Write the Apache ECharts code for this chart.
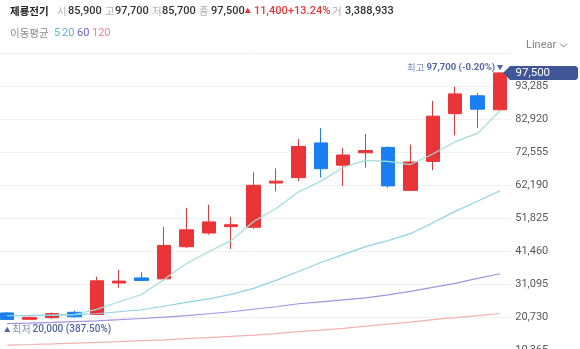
<!DOCTYPE html>
<html><head><meta charset="utf-8">
<script src="https://cdn.jsdelivr.net/npm/echarts@6/dist/echarts.min.js"></script>
<style>html,body{margin:0;padding:0;background:#fff;overflow:hidden}#c{width:580px;height:349px}</style>
</head><body><div id="c"></div>
<script>
const categories = ['1','2','3','4','5','6','7','8','9','10','11','12','13','14','15','16','17','18','19','20','21','22','23'];
const opens  = [22100,20100,20600,22300,21600,31500,33100,32800,42900,47200,49200,49000,62900,64600,75500,68500,72400,74100,60600,69700,84700,90300,85900];
const closes = [20050,20700,21900,20900,32200,32100,32300,43300,48200,50700,49800,62200,63500,74400,67400,71700,73100,62000,69500,83900,90900,86100,97500];
const lows   = [20000,20050,20200,20550,21400,30000,32200,32300,42500,46700,42200,48500,60300,63500,64600,62000,67700,61400,60500,66900,77900,80200,85700];
const highs  = [22400,21000,22200,22850,33500,35600,34900,49100,55100,56100,52200,66300,67500,76700,80200,73900,78300,74400,75000,88700,93200,91100,97700];
const ma5   = [21300,21300,21400,21600,23200,25600,27900,32600,37600,41300,44900,50800,54900,60100,63500,67800,70000,69700,68700,72000,75900,78500,85600];
const ma20  = [21230,21230,21390,21540,21850,22480,23100,24200,25440,26540,27940,29820,32310,35120,37930,40430,42930,44800,46990,50400,54000,57200,60500];
const ma60  = [18730,18890,19110,19360,19610,19980,20360,20760,21230,21850,22480,23260,24040,24980,25600,26230,26850,27790,28880,30130,31380,32940,34400];
const ma120 = [12020,12180,12390,12640,12860,13110,13430,13670,14050,14360,14740,15140,15610,16230,16700,17230,17950,18580,19200,19980,20610,21230,21920];
const yTickInterval = 10365;
const yMin = 10365, yMax = 103650;
const header = {name:'제룡전기', open:'85,900', high:'97,700', low:'85,700', close:'97,500', chg:'11,400', pct:'+13.24%', vol:'3,388,933'};
const maLabels = ['5','20','60','120'];
const hiLabel = '97,700 (-0.20%)';
const loLabel = '20,000 (387.50%)';

const K = "'Noto Sans CJK KR','Noto Sans',sans-serif";
const N = "Roboto,'Noto Sans CJK KR',sans-serif";
const RED = '#ea3538', BLUE = '#1a7ff0';
const chart = echarts.init(document.getElementById('c'));
const candleData = categories.map((c,i)=>[opens[i],closes[i],lows[i],highs[i]]);
const fmt = v => String(v).replace(/\B(?=(\d{3})+(?!\d))/g, ',');

chart.setOption({
  animation:false,
  grid:{left:-4, width:515.2, top:53.3, height:297, outerBoundsMode:'none', containLabel:false},
  xAxis:{type:'category', data:categories, boundaryGap:true, show:false},
  yAxis:{type:'value', position:'right', min:yMin, max:yMax, interval:yTickInterval, scale:true,
    axisLine:{show:false}, axisTick:{show:false},
    splitLine:{lineStyle:{color:'#f1f1f1', width:1}},
    axisLabel:{color:'#585858', fontSize:11, fontFamily:N, margin:4, showMaxLabel:false, formatter:v=>fmt(v)}},
  series:[
    {type:'candlestick', data:candleData, barWidth:14, z:2,
     itemStyle:{color:RED, color0:BLUE, borderColor:RED, borderColor0:BLUE, borderColorDoji:RED, borderWidth:1}},
    {type:'line', data:ma5, symbol:'none', z:3, lineStyle:{color:'#9fded8', width:1.2}},
    {type:'line', data:ma20, symbol:'none', z:3, lineStyle:{color:'#8ed3e6', width:1.2}},
    {type:'line', data:ma60, symbol:'none', z:3, lineStyle:{color:'#a393e0', width:1.2}},
    {type:'line', data:ma120, symbol:'none', z:3, lineStyle:{color:'#f3b1b1', width:1.2}}
  ]
});

const last = categories.length-1;
const xLast = chart.convertToPixel({xAxisIndex:0}, last);
const yClose = chart.convertToPixel({yAxisIndex:0}, closes[last]);
let hiIdx = 0, loIdx = 0;
highs.forEach((h,i)=>{ if(h>highs[hiIdx]) hiIdx=i; });
lows.forEach((l,i)=>{ if(l<lows[loIdx]) loIdx=i; });
const xHi = chart.convertToPixel({xAxisIndex:0}, hiIdx), yHi = chart.convertToPixel({yAxisIndex:0}, highs[hiIdx]);
const xLo = chart.convertToPixel({xAxisIndex:0}, loIdx), yLo = chart.convertToPixel({yAxisIndex:0}, lows[loIdx]);

const t = (x,y,text,opt={}) => ({type:'text', x, y, silent:true, z:100, style:Object.assign({text, fill:'#333', font:`11px ${N}`, textVerticalAlign:'middle'}, opt)});
const NUM = `500 11px ${N}`, HAN = `10.5px ${K}`;
const g = [
  t(10,11,header.name,{font:`bold 10.5px ${K}`, fill:'#222'}),
  t(57,11,'시',{fill:'#b0b0b0', font:HAN}), t(68,11,header.open,{font:NUM}),
  t(105,11,'고',{fill:'#b0b0b0', font:HAN}), t(115,11,header.high,{font:NUM}),
  t(152,11,'저',{fill:'#b0b0b0', font:HAN}), t(162,11,header.low,{font:NUM}),
  t(199,11,'종',{fill:'#b0b0b0', font:HAN}), t(211,11,header.close,{font:NUM}),
  t(244.5,10.5,'▲',{fill:RED, font:`6.5px ${K}`}),
  t(254,11,header.chg,{font:NUM, fill:RED}),
  t(288,11,header.pct,{font:NUM, fill:RED}),
  t(332,11,'거',{fill:'#b0b0b0', font:HAN}), t(345,11,header.vol,{font:NUM}),
  t(10,33,'이동평균',{fill:'#8a8a8a', font:HAN}),
  t(54,33,maLabels[0],{fill:'#4cc4b6', font:`11px ${N}`}), t(62,33,maLabels[1],{fill:'#56aee2', font:`11px ${N}`}),
  t(77,33,maLabels[2],{fill:'#6e61c8', font:`11px ${N}`}), t(92,33,maLabels[3],{fill:'#e9878d', font:`11px ${N}`}),
  t(526,45.5,'Linear',{fill:'#808080', font:`11px ${N}`}),
  {type:'polyline', silent:true, z:100, shape:{points:[[560,43.5],[563.5,47],[567,43.5]]}, style:{stroke:'#808080', lineWidth:1, fill:null}},
  {type:'polygon', silent:true, z:100, shape:{points:[[xLast+3,yClose],[xLast+10,yClose-7],[576,yClose-7],[578,yClose-5],[578,yClose+5],[576,yClose+7],[xLast+10,yClose+7]]}, style:{fill:'#3f5796'}},
  t(515.5,yClose+0.5,fmt(closes[last]),{fill:'#fff', font:`11.5px ${N}`}),
  t(xHi,yHi-4.5,'▼',{fill:'#5267a4', font:`6.5px ${K}`, textAlign:'center'}),
  {type:'text', x:xHi-5, y:yHi-4.5, silent:true, z:100, style:{text:'{a|최고}{b|'+hiLabel+'}', textAlign:'right', textVerticalAlign:'middle',
     rich:{a:{fill:'#7f90bf', font:`9.5px ${K}`, padding:[0,2,0,0]}, b:{fill:'#5267a4', font:`bold 9.5px ${N}`}}}},
  t(xLo,yLo+10,'▲',{fill:'#5267a4', font:`6.5px ${K}`, textAlign:'center'}),
  {type:'text', x:xLo+5, y:yLo+10, silent:true, z:100, style:{text:'{a|최저}{b|'+loLabel+'}', textVerticalAlign:'middle',
     rich:{a:{fill:'#7f90bf', font:`10px ${K}`, padding:[0,2,0,0]}, b:{fill:'#5267a4', font:`500 10px ${N}`}}}}
];
chart.setOption({graphic:g});
</script></body></html>
